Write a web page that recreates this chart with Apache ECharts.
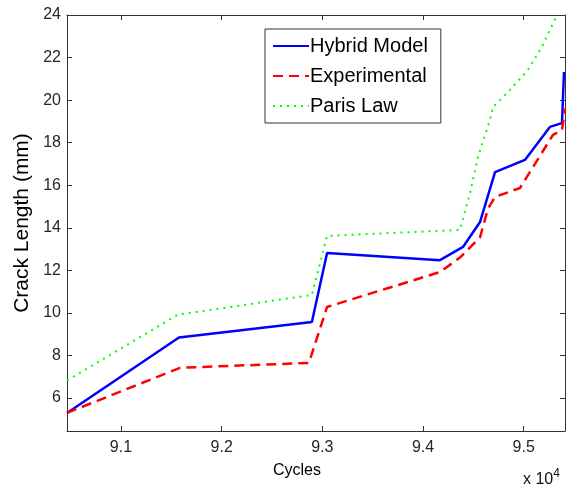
<!DOCTYPE html>
<html>
<head>
<meta charset="utf-8">
<script src="https://cdn.jsdelivr.net/npm/echarts@6/dist/echarts.min.js"></script>
<style>
html,body{margin:0;padding:0;background:#fff;}
#chart{width:566px;height:488px;}
</style>
</head>
<body>
<div id="chart"></div>
<script>
// Cycles in units of 10^4
const hybridX = [9.0464, 9.1576, 9.2896, 9.3047, 9.4168, 9.4397, 9.4566, 9.4715, 9.5012, 9.5260, 9.5380, 9.5400];
const hybridY = [5.30, 8.84, 9.57, 12.82, 12.48, 13.10, 14.27, 16.62, 17.19, 18.74, 18.92, 21.32];

const expX = [9.0464, 9.1586, 9.2866, 9.3047, 9.4168, 9.4367, 9.4566, 9.4645, 9.4715, 9.4963, 9.5290, 9.5380, 9.5410];
const expY = [5.30, 7.42, 7.65, 10.28, 11.92, 12.60, 13.55, 14.90, 15.45, 15.87, 18.36, 18.60, 19.60];

const parisX = [9.0464, 9.1566, 9.2896, 9.3047, 9.4367, 9.4467, 9.4546, 9.4665, 9.4695, 9.4764, 9.4864, 9.5042, 9.5181, 9.5330];
const parisY = [6.82, 9.92, 10.84, 13.62, 13.90, 15.64, 17.33, 19.07, 19.68, 20.00, 20.48, 21.42, 22.50, 24.00];

const xTicks = [9.1, 9.2, 9.3, 9.4, 9.5];
const yTicks = [6, 8, 10, 12, 14, 16, 18, 20, 22, 24];

const seriesNames = ['Hybrid Model', 'Experimental', 'Paris Law'];

const X_MIN = 9.0464, X_MAX = 9.5410, Y_MIN = 4.45, Y_MAX = 24;

function pairs(xs, ys) { return xs.map((x, i) => [x, ys[i]]); }

const FONT = 'Liberation Sans, Arial, Helvetica, sans-serif';
const AX = '#333333';

const chart = echarts.init(document.getElementById('chart'), null, {renderer: 'canvas'});

const baseX = {
  type: 'value', min: X_MIN, max: X_MAX,
  axisLine: {show: true, onZero: false, lineStyle: {color: AX, width: 1}},
  axisTick: {show: true, inside: true, length: 5, customValues: xTicks, lineStyle: {color: AX}},
  splitLine: {show: false},
};
const baseY = {
  type: 'value', min: Y_MIN, max: Y_MAX,
  axisLine: {show: true, onZero: false, lineStyle: {color: AX, width: 1}},
  axisTick: {show: true, inside: true, length: 5, customValues: yTicks, lineStyle: {color: AX}},
  splitLine: {show: false},
};

chart.setOption({
  animation: false,
  backgroundColor: '#ffffff',
  grid: {left: 67, top: 15, right: 1, bottom: 57, containLabel: false},
  xAxis: [
    Object.assign({}, baseX, {
      position: 'bottom',
      axisLabel: {show: true, customValues: xTicks, margin: 9, fontSize: 16, color: '#262626', fontFamily: FONT,
        formatter: v => v.toFixed(1)}
    }),
    Object.assign({}, baseX, {position: 'top', axisLabel: {show: false}})
  ],
  yAxis: [
    Object.assign({}, baseY, {
      position: 'left',
      name: 'Crack Length (mm)', nameLocation: 'middle', nameGap: 34, nameRotate: 90,
      nameTextStyle: {fontSize: 21, color: '#000', fontFamily: FONT},
      axisLabel: {show: true, customValues: yTicks, margin: 6, fontSize: 16, color: '#262626', fontFamily: FONT}
    }),
    Object.assign({}, baseY, {position: 'right', axisLabel: {show: false}})
  ],
  legend: {
    data: seriesNames,
    orient: 'vertical',
    left: 265, top: 29,
    padding: [7, 13, 7, 7],
    itemWidth: 36, itemHeight: 14, itemGap: 10,
    backgroundColor: '#fff',
    borderColor: AX, borderWidth: 1,
    itemStyle: {opacity: 0},
    textStyle: {fontSize: 20, lineHeight: 20, color: '#000', fontFamily: FONT, padding: [0, 0, 0, -4]}
  },
  graphic: [
    {type: 'text', left: 273, top: 463, style: {text: 'Cycles', fontSize: 16, fontFamily: FONT, fill: '#000'}},
    {type: 'text', left: 523, top: 468, style: {
      text: '{a|x 10}{b|4}',
      rich: {a: {fontSize: 16, fontFamily: FONT, fill: '#111', verticalAlign: 'bottom'},
             b: {fontSize: 12, fontFamily: FONT, fill: '#111', verticalAlign: 'top', padding: [0, 0, 8, 0]}}
    }}
  ],
  series: [
    {name: seriesNames[0], type: 'line', xAxisIndex: 0, yAxisIndex: 0, data: pairs(hybridX, hybridY),
     symbol: 'none', showSymbol: false, clip: true,
     lineStyle: {color: '#0000ff', width: 2.5}, itemStyle: {color: '#0000ff'}},
    {name: seriesNames[1], type: 'line', xAxisIndex: 0, yAxisIndex: 0, data: pairs(expX, expY),
     symbol: 'none', showSymbol: false, clip: true,
     lineStyle: {color: '#ff0000', width: 2.5, type: [10, 6]}, itemStyle: {color: '#ff0000'}},
    {name: seriesNames[2], type: 'line', xAxisIndex: 0, yAxisIndex: 0, data: pairs(parisX, parisY),
     symbol: 'none', showSymbol: false, clip: true,
     lineStyle: {color: '#00ff00', width: 2, type: [2, 5]}, itemStyle: {color: '#00ff00'}}
  ]
});
</script>
</body>
</html>
